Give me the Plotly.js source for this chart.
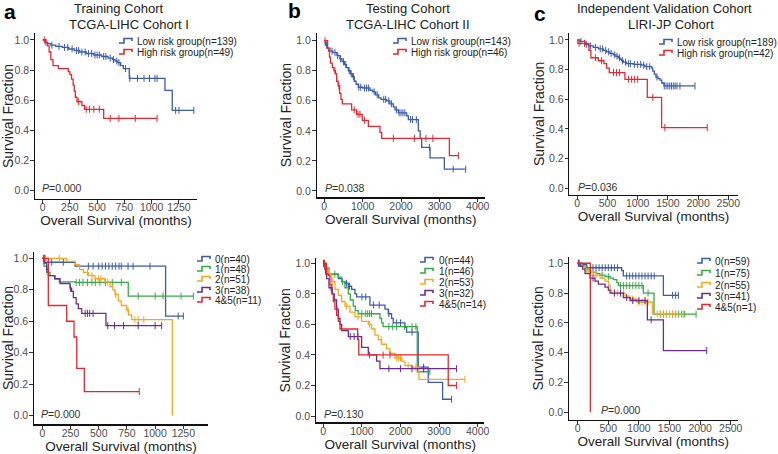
<!DOCTYPE html>
<html><head><meta charset="utf-8">
<script src="https://cdn.plot.ly/plotly-3.0.1.min.js"></script>
<style>html,body{margin:0;padding:0;background:#fff}#chart{width:778px;height:454px}</style>
</head><body><div id="chart"></div>
<script>
// ---------- Panel a (top): Training cohort, risk groups ----------
var trainLowT = [0, 20, 45, 75, 120, 180, 240, 290, 340, 400, 470, 540, 600, 640, 665, 690, 715, 740, 795, 1122, 1189, 1387];
var trainLowS = [1, 0.985, 0.975, 0.965, 0.957, 0.95, 0.94, 0.93, 0.92, 0.91, 0.90, 0.89, 0.88, 0.87, 0.86, 0.85, 0.83, 0.81, 0.745, 0.665, 0.533, 0.533];
var trainLowC = [30, 85, 150, 200, 230, 270, 310, 330, 360, 390, 420, 450, 480, 500, 520, 560, 580, 620, 650, 680, 700, 760, 800, 870, 930, 980, 1030, 1050, 1220, 1250, 1387];
var trainHighT = [0, 30, 45, 60, 75, 95, 145, 235, 250, 265, 280, 290, 300, 315, 360, 385, 560, 1050];
var trainHighS = [1, 0.98, 0.96, 0.92, 0.87, 0.83, 0.81, 0.79, 0.77, 0.74, 0.70, 0.66, 0.62, 0.59, 0.565, 0.54, 0.48, 0.48];
var trainHighC = [15, 330, 400, 430, 470, 520, 620, 700, 850, 1050];

// ---------- Panel b (top): Testing cohort, risk groups ----------
var testLowT = [0, 30, 80, 148, 230, 330, 409, 460, 522, 580, 626, 680, 730, 780, 830, 887, 1000, 1191, 1260, 1339, 1420, 1480, 1626, 1710, 1800, 1843, 1930, 2148, 2191, 2452, 2500, 2539, 2757, 3130, 3687];
var testLowS = [1, 0.97, 0.95, 0.93, 0.92, 0.90, 0.88, 0.86, 0.84, 0.82, 0.80, 0.78, 0.76, 0.73, 0.71, 0.69, 0.685, 0.67, 0.66, 0.64, 0.62, 0.61, 0.60, 0.58, 0.56, 0.54, 0.52, 0.50, 0.475, 0.40, 0.35, 0.29, 0.22, 0.145, 0.145];
var testLowC = [60, 200, 280, 350, 420, 500, 560, 650, 700, 760, 900, 950, 1050, 1100, 1150, 1300, 1380, 1550, 1600, 1680, 1750, 1880, 1950, 2000, 2050, 2100, 2250, 2300, 2400, 2740, 3360, 3687];
var testHighT = [0, 87, 110, 135, 160, 209, 250, 290, 322, 360, 400, 435, 470, 713, 843, 991, 1148, 1452, 1496, 3261, 3496];
var testHighS = [1, 0.95, 0.93, 0.89, 0.85, 0.82, 0.80, 0.78, 0.73, 0.70, 0.65, 0.61, 0.58, 0.54, 0.51, 0.47, 0.43, 0.39, 0.35, 0.235, 0.235];
var testHighC = [20, 280, 380, 780, 880, 930, 1050, 1800, 2350, 2650, 2830, 3496];

// ---------- Panel c (top): Validation cohort, risk groups ----------
var valLowT = [0, 44, 127, 182, 265, 348, 430, 486, 541, 596, 640, 679, 707, 734, 762, 817, 927, 1065, 1120, 1231, 1250, 1275, 1302, 1340, 1370, 1398, 1435, 1948];
var valLowS = [1, 0.99, 0.97, 0.96, 0.95, 0.94, 0.93, 0.92, 0.91, 0.90, 0.89, 0.88, 0.87, 0.86, 0.85, 0.84, 0.835, 0.83, 0.82, 0.81, 0.79, 0.77, 0.75, 0.74, 0.73, 0.71, 0.69, 0.69];
var valLowC = [60, 150, 220, 300, 380, 420, 470, 520, 560, 620, 660, 700, 750, 800, 850, 880, 950, 1000, 1050, 1100, 1150, 1200, 1320, 1440, 1470, 1500, 1530, 1560, 1590, 1620, 1650, 1700, 1948];
var valHighT = [0, 10, 193, 226, 348, 441, 486, 530, 789, 1159, 1396, 2152];
var valHighS = [1, 0.977, 0.93, 0.88, 0.86, 0.84, 0.81, 0.78, 0.735, 0.613, 0.409, 0.409];
var valHighC = [30, 120, 300, 400, 600, 650, 700, 850, 900, 950, 1000, 1250, 1450, 2152];

// ---------- Panel a (bottom): Training cohort, score groups ----------
var trainG0T = [0, 24, 290, 1093, 1250];
var trainG0S = [1, 0.975, 0.95, 0.633, 0.633];
var trainG0C = [10, 83, 186, 408, 450, 500, 530, 560, 590, 620, 650, 680, 700, 760, 805, 955, 1205, 1250];
var trainG1T = [0, 15, 38, 68, 112, 150, 290, 762, 1339];
var trainG1S = [1, 0.95, 0.91, 0.89, 0.87, 0.85, 0.847, 0.76, 0.76];
var trainG1C = [300, 330, 360, 400, 440, 470, 510, 560, 620, 700, 850, 1000, 1070, 1230, 1339];
var trainG2T = [0, 216, 290, 330, 363, 408, 467, 555, 600, 625, 644, 674, 700, 748, 765, 792, 1152];
var trainG2S = [1, 0.98, 0.96, 0.93, 0.91, 0.89, 0.87, 0.85, 0.82, 0.80, 0.77, 0.73, 0.70, 0.67, 0.64, 0.61, 0.0];
var trainG2C = [30, 150, 400, 440, 500, 520, 580, 650, 760, 820, 850, 900];
var trainG3T = [0, 15, 38, 53, 110, 157, 245, 260, 275, 300, 319, 349, 564, 1058];
var trainG3S = [1, 0.97, 0.93, 0.89, 0.87, 0.84, 0.81, 0.79, 0.75, 0.71, 0.68, 0.65, 0.572, 0.572];
var trainG3C = [40, 250, 380, 400, 420, 450, 580, 640, 720, 850, 1000, 1058];
var trainG45T = [0, 53, 216, 281, 305, 372, 860];
var trainG45S = [1, 0.70, 0.60, 0.50, 0.30, 0.153, 0.153];
var trainG45C = [20, 860];

// ---------- Panel b (bottom): Testing cohort, score groups ----------
var testG0T = [0, 60, 389, 480, 561, 648, 734, 820, 864, 1209, 1598, 1684, 1770, 1813, 2116, 2159, 2460, 2720, 3092, 3325];
var testG0S = [1, 0.93, 0.90, 0.88, 0.87, 0.85, 0.83, 0.80, 0.78, 0.727, 0.70, 0.67, 0.64, 0.61, 0.58, 0.55, 0.32, 0.22, 0.11, 0.11];
var testG0C = [20, 600, 680, 1000, 1100, 1300, 1450, 1700, 1900, 2000, 2300, 2600, 3325];
var testG1T = [0, 60, 147, 389, 475, 560, 648, 700, 777, 830, 907, 1468, 1511, 1550, 2435, 2763];
var testG1S = [1, 0.97, 0.93, 0.91, 0.88, 0.84, 0.80, 0.76, 0.72, 0.69, 0.67, 0.64, 0.61, 0.585, 0.29, 0.29];
var testG1C = [30, 300, 500, 1000, 1100, 1150, 1200, 1250, 1700, 1800, 1900, 2100, 2300, 2400, 2763];
var testG2T = [0, 43, 130, 216, 303, 389, 475, 561, 691, 820, 993, 1166, 1252, 1339, 1425, 1511, 1641, 1727, 1857, 2030, 2116, 2290, 2478, 3670];
var testG2S = [1, 0.96, 0.93, 0.88, 0.83, 0.79, 0.75, 0.72, 0.68, 0.65, 0.62, 0.60, 0.57, 0.53, 0.50, 0.47, 0.44, 0.41, 0.38, 0.36, 0.33, 0.32, 0.24, 0.24];
var testG2C = [250, 600, 900, 1200, 1500, 1900, 1950, 2000, 2200, 2400, 3670];
var testG3T = [0, 43, 86, 147, 233, 285, 345, 389, 432, 475, 648, 993, 1166, 1382, 1468, 3454];
var testG3S = [1, 0.96, 0.90, 0.84, 0.80, 0.76, 0.70, 0.64, 0.60, 0.56, 0.52, 0.45, 0.40, 0.36, 0.31, 0.31];
var testG3C = [10, 200, 350, 700, 800, 900, 1700, 2000, 2300, 2600, 3454];
var testG45T = [0, 86, 130, 173, 218, 260, 302, 347, 390, 433, 890, 920, 3238, 3454];
var testG45S = [1, 0.93, 0.92, 0.86, 0.80, 0.75, 0.70, 0.66, 0.62, 0.57, 0.50, 0.40, 0.20, 0.20];
var testG45C = [30, 1200, 1550, 1730, 3454];

// ---------- Panel c (bottom): Validation cohort, score groups ----------
var valG0T = [0, 38, 147, 719, 746, 1400, 1645];
var valG0S = [1, 0.99, 0.97, 0.95, 0.915, 0.785, 0.785];
var valG0C = [20, 250, 300, 350, 400, 450, 500, 550, 600, 650, 800, 850, 900, 950, 1000, 1050, 1100, 1150, 1200, 1250, 1550, 1600, 1645];
var valG1T = [0, 65, 120, 202, 310, 365, 447, 530, 583, 640, 665, 1073, 1247, 1934];
var valG1S = [1, 0.98, 0.96, 0.94, 0.93, 0.92, 0.91, 0.90, 0.89, 0.87, 0.85, 0.80, 0.658, 0.658];
var valG1C = [30, 150, 400, 500, 700, 750, 800, 850, 900, 950, 1000, 1050, 1150, 1350, 1400, 1450, 1550, 1600, 1650, 1700, 1750, 1934];
var valG2T = [0, 65, 120, 174, 256, 365, 447, 501, 530, 556, 773, 855, 964, 1220, 1726];
var valG2S = [1, 0.98, 0.96, 0.94, 0.92, 0.90, 0.88, 0.85, 0.82, 0.80, 0.78, 0.76, 0.74, 0.66, 0.66];
var valG2C = [20, 300, 600, 650, 700, 750, 900, 1000, 1050, 1100, 1150, 1300, 1350, 1400, 1450, 1500, 1550, 1600, 1726];
var valG3T = [0, 38, 82, 120, 202, 283, 338, 447, 501, 528, 746, 855, 1138, 1400, 2108];
var valG3S = [1, 0.98, 0.96, 0.93, 0.90, 0.88, 0.86, 0.84, 0.82, 0.80, 0.77, 0.75, 0.62, 0.414, 0.414];
var valG3C = [10, 250, 600, 700, 800, 900, 1000, 1100, 1200, 2108];
var valG45T = [0, 207];
var valG45S = [1, 0];
var valG45C = [];

// ---------- Labels / ticks ----------
var riskLabelsA = ['Low risk group(n=139)', 'High risk group(n=49)'];
var riskLabelsB = ['Low risk group(n=143)', 'High risk group(n=46)'];
var riskLabelsC = ['Low risk group(n=189)', 'High risk group(n=42)'];
var stageLabelsA = ['0(n=40)', '1(n=48)', '2(n=51)', '3(n=38)', '4&5(n=11)'];
var stageLabelsB = ['0(n=44)', '1(n=46)', '2(n=53)', '3(n=32)', '4&5(n=14)'];
var stageLabelsC = ['0(n=59)', '1(n=75)', '2(n=55)', '3(n=41)', '4&5(n=1)'];
var pValues = ['0.000', '0.038', '0.036', '0.000', '0.130', '0.000'];
var xTicksA = [0, 250, 500, 750, 1000, 1250];
var xTicksB = [0, 1000, 2000, 3000, 4000];
var xTicksC = [0, 500, 1000, 1500, 2000, 2500];
var yTicks = [0, 0.2, 0.4, 0.6, 0.8, 1.0];
var titleLine1 = ['Training Cohort', 'Testing Cohort', 'Independent Validation Cohort'];
var titleLine2 = ['TCGA-LIHC Cohort I', 'TCGA-LIHC Cohort II', 'LIRI-JP Cohort'];
var panelLetters = ['a', 'b', 'c'];

var BLUE = '#3C5BA8', RED = '#E8262D', GREEN = '#38A948', ORANGE = '#F6A623', PURPLE = '#6B2C8F';
var riskColors = [BLUE, RED];
var stageColors = [BLUE, GREEN, ORANGE, PURPLE, RED];
var FONT = '"Liberation Sans", Arial, sans-serif';
var W = 778, H = 454;
function px(x) { return x / W; }
function py(y) { return 1 - y / H; }

function stepAt(T, S, t) { var s = S[0]; for (var i = 0; i < T.length; i++) { if (T[i] <= t) s = S[i]; } return s; }

var panels = [
  { curves: [[trainLowT, trainLowS, trainLowC], [trainHighT, trainHighS, trainHighC]], colors: riskColors, labels: riskLabelsA,
    xd: [35, 197], xr: [-70, 1416], yd: [33, 199], yr: [-0.055, 1.046], xt: xTicksA,
    leg: { kx: 119, tx: 135, rows: [41, 52] }, p: [40, 188] },
  { curves: [[testLowT, testLowS, testLowC], [testHighT, testHighS, testHighC]], colors: riskColors, labels: riskLabelsB,
    xd: [316.7, 485], xr: [-198, 4190], yd: [33, 197.3], yr: [-0.042, 1.051], xt: xTicksB,
    leg: { kx: 393, tx: 409, rows: [41, 52] }, p: [323, 188] },
  { curves: [[valLowT, valLowS, valLowC], [valHighT, valHighS, valHighC]], colors: riskColors, labels: riskLabelsC,
    xd: [569.3, 737.7], xr: [-132, 2656], yd: [32.7, 195], yr: [-0.045, 1.049], xt: xTicksC,
    leg: { kx: 659, tx: 675, rows: [42, 53] }, p: [576, 187] },
  { curves: [[trainG0T, trainG0S, trainG0C], [trainG1T, trainG1S, trainG1C], [trainG2T, trainG2S, trainG2C], [trainG3T, trainG3S, trainG3C], [trainG45T, trainG45S, trainG45C]],
    colors: stageColors, labels: stageLabelsA,
    xd: [34, 208], xr: [-74, 1469], yd: [251.7, 424.3], yr: [-0.055, 1.042], xt: xTicksA,
    leg: { kx: 197, tx: 213, rows: [259, 269, 279, 290, 300] }, p: [39, 414] },
  { curves: [[testG0T, testG0S, testG0C], [testG1T, testG1S, testG1C], [testG2T, testG2S, testG2C], [testG3T, testG3S, testG3C], [testG45T, testG45S, testG45C]],
    colors: stageColors, labels: stageLabelsB,
    xd: [316, 484.3], xr: [-189, 4173], yd: [258.3, 422.3], yr: [-0.041, 1.033], xt: xTicksB,
    leg: { kx: 420, tx: 437, rows: [260, 271, 282, 293, 304] }, p: [322, 414] },
  { curves: [[valG0T, valG0S, valG0C], [valG1T, valG1S, valG1C], [valG2T, valG2S, valG2C], [valG3T, valG3S, valG3C], [valG45T, valG45S, valG45C]],
    colors: stageColors, labels: stageLabelsC,
    xd: [569, 737.7], xr: [-142, 2614], yd: [256.7, 420], yr: [-0.052, 1.044], xt: xTicksC,
    leg: { kx: 697, tx: 713, rows: [261, 273, 285, 296, 307] }, p: [599, 410] }
];

var traces = [];
var layout = {
  width: W, height: H, margin: { l: 0, r: 0, t: 0, b: 0 },
  paper_bgcolor: '#fff', plot_bgcolor: '#fff', showlegend: false,
  font: { family: FONT, color: '#222' },
  annotations: [], shapes: []
};

panels.forEach(function (pn, k) {
  var idx = k === 0 ? '' : String(k + 1);
  var xa = 'x' + idx, ya = 'y' + idx;
  pn.curves.forEach(function (c, ci) {
    var col = pn.colors[ci];
    traces.push({ x: c[0], y: c[1], xaxis: xa, yaxis: ya, mode: 'lines', type: 'scatter',
      line: { shape: 'hv', color: col, width: 1.3 }, hoverinfo: 'skip', name: pn.labels[ci] });
    if (c[2].length) {
      traces.push({ x: c[2], y: c[2].map(function (t) { return stepAt(c[0], c[1], t); }), xaxis: xa, yaxis: ya,
        mode: 'markers', type: 'scatter', hoverinfo: 'skip',
        marker: { symbol: 'line-ns-open', size: 5, color: col, line: { width: 1, color: col } } });
    }
  });
  layout['xaxis' + idx] = {
    domain: [px(pn.xd[0]), px(pn.xd[1])], range: pn.xr, anchor: ya,
    showline: true, linecolor: '#111', linewidth: 1.2, showgrid: false, zeroline: false,
    ticks: 'outside', ticklen: 3.5, tickwidth: 1, tickcolor: '#333', ticklabelstandoff: -5,
    tickvals: pn.xt, ticktext: pn.xt.map(String),
    tickfont: { family: FONT, size: 10.5, color: '#4d4d4d' },
    title: { text: 'Overall Survival (months)', font: { family: FONT, size: 13.5, color: '#222', weight: 'normal' }, standoff: 1 }
  };
  layout['yaxis' + idx] = {
    domain: [py(pn.yd[1]), py(pn.yd[0])], range: pn.yr, anchor: xa,
    showline: true, linecolor: '#111', linewidth: 1.2, showgrid: false, zeroline: false,
    ticks: 'outside', ticklen: 3.5, tickwidth: 1, tickcolor: '#333', ticklabelstandoff: -1,
    tickvals: yTicks, ticktext: yTicks.map(function (v) { return v.toFixed(1); }),
    tickfont: { family: FONT, size: 10.5, color: '#4d4d4d' },
    title: { text: 'Survival Fraction', font: { family: FONT, size: 14, color: '#222', weight: 'normal' }, standoff: 1 }
  };
  pn.labels.forEach(function (lab, li) {
    var y = pn.leg.rows[li], kx = pn.leg.kx, col = pn.colors[li];
    var path = 'M' + px(kx) + ',' + py(y + 2) + ' L' + px(kx + 5) + ',' + py(y + 2) + ' L' + px(kx + 5) + ',' + py(y - 2.5) +
      ' L' + px(kx + 13) + ',' + py(y - 2.5) + ' L' + px(kx + 13) + ',' + py(y);
    layout.shapes.push({ type: 'path', xref: 'paper', yref: 'paper', path: path, line: { color: col, width: 1.6 } });
    layout.annotations.push({ xref: 'paper', yref: 'paper', x: px(pn.leg.tx), y: py(y), xanchor: 'left', yanchor: 'middle',
      text: lab, showarrow: false, font: { family: FONT, size: 10, color: '#222' } });
  });
  layout.annotations.push({ xref: 'paper', yref: 'paper', x: px(pn.p[0]), y: py(pn.p[1]), xanchor: 'left', yanchor: 'middle',
    text: '<i>P</i>=' + pValues[k], showarrow: false, font: { family: FONT, size: 10.5, color: '#333' } });
});

var t1x = [119, 408, 664], t2x = [129, 408, 671], letterX = [10, 294, 540], letterY = [12, 11, 13];
for (var c = 0; c < 3; c++) {
  layout.annotations.push({ xref: 'paper', yref: 'paper', x: px(t1x[c]), y: 1, xanchor: 'center', yanchor: 'top', borderpad: 0,
    text: titleLine1[c], showarrow: false, font: { family: FONT, size: 13, color: '#222' } });
  layout.annotations.push({ xref: 'paper', yref: 'paper', x: px(t2x[c]), y: py(25), xanchor: 'center', yanchor: 'middle', borderpad: 0,
    text: titleLine2[c], showarrow: false, font: { family: FONT, size: 13, color: '#222' } });
  layout.annotations.push({ xref: 'paper', yref: 'paper', x: px(letterX[c]), y: py(letterY[c]), xanchor: 'center', yanchor: 'middle',
    text: '<b>' + panelLetters[c] + '</b>', showarrow: false, font: { family: FONT, size: 21, color: '#000' } });
}

Plotly.newPlot('chart', traces, layout, { staticPlot: true, displayModeBar: false });
</script></body></html>
